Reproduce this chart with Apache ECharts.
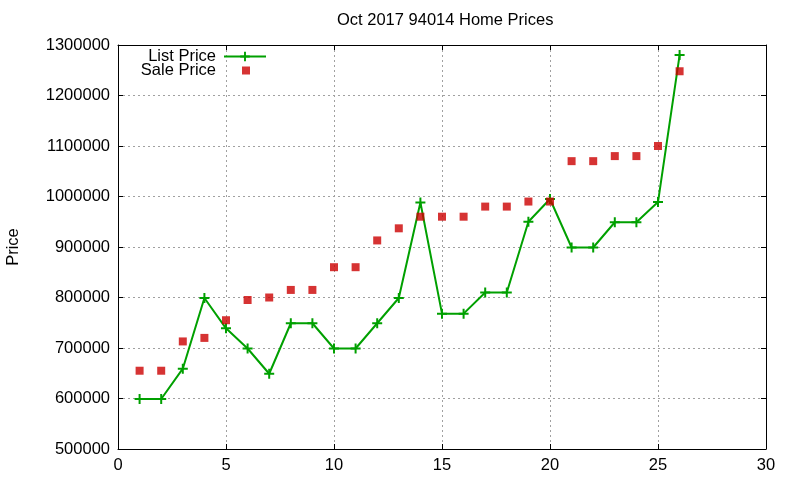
<!DOCTYPE html>
<html>
<head>
<meta charset="utf-8">
<script src="https://cdn.jsdelivr.net/npm/echarts@6/dist/echarts.min.js"></script>
<style>
  html, body { margin: 0; padding: 0; background: #fff; }
  #main { width: 800px; height: 480px; }
</style>
</head>
<body>
<div id="main"></div>
<script>
var days = [1, 2, 3, 4, 5, 6, 7, 8, 9, 10, 11, 12, 13, 14, 15, 16, 17, 18, 19, 20, 21, 22, 23, 24, 25, 26];
var listPrice = [599000, 599000, 659000, 799000, 739000, 699000, 649000, 749000, 749000, 699000, 699000, 749000, 799000,
                 988000, 768000, 768000, 810000, 810000, 950000, 995000, 899000, 899000, 949000, 949000, 989000, 1280000];
var salePrice = [655000, 655000, 713000, 720000, 755000, 795000, 800000, 815000, 815000, 860000, 860000, 913000, 937000,
                 960000, 960000, 960000, 980000, 980000, 990000, 990000, 1070000, 1070000, 1080000, 1080000, 1100000, 1248000];

var FONT = 'Liberation Sans';
var FS = 16.5;
var plus = 'path://M4,0h2v4h4v2h-4v4h-2v-4h-4v-2h4z';

function pairs(xs, ys) {
    var out = [];
    for (var i = 0; i < xs.length; i++) {
        out.push([xs[i], ys[i]]);
    }
    return out;
}

var gridLine = { show: true, lineStyle: { color: '#a0a0a0', type: [2, 3], width: 1 } };
var frame = { show: true, onZero: false, lineStyle: { color: '#000', width: 1 } };
var tick = { show: true, inside: true, length: 5, lineStyle: { color: '#000' } };

var myChart = echarts.init(document.getElementById('main'));
myChart.setOption({
    animation: false,
    textStyle: { fontFamily: FONT },
    title: {
        text: 'Oct 2017 94014 Home Prices',
        left: 337,
        top: 12,
        padding: 0,
        textStyle: { fontFamily: FONT, fontSize: FS, fontWeight: 'normal', color: '#000' }
    },
    legend: [{
        data: ['List Price'],
        orient: 'vertical',
        align: 'right',
        right: 533,
        top: 48,
        padding: 0,
        itemWidth: 42,
        itemHeight: 12,
        textStyle: { fontFamily: FONT, fontSize: FS, color: '#000', padding: [0, 3, 0, 0] }
    }, {
        // square icon sits in the middle of the line sample above
        data: ['Sale Price'],
        orient: 'vertical',
        align: 'right',
        right: 550,
        top: 62,
        padding: 0,
        itemWidth: 8,
        itemHeight: 8,
        icon: 'rect',
        textStyle: { fontFamily: FONT, fontSize: FS, color: '#000', padding: [0, 21, 0, 0] }
    }],
    grid: { left: 118, right: 34, top: 45, bottom: 31, outerBoundsMode: 'none' },
    xAxis: [{
        type: 'value',
        min: 0,
        max: 30,
        interval: 5,
        axisLine: frame,
        axisTick: tick,
        axisLabel: { margin: 8, fontSize: FS, color: '#000', fontFamily: FONT },
        splitLine: gridLine
    }, {
        type: 'value',
        position: 'top',
        min: 0,
        max: 30,
        interval: 5,
        axisLine: frame,
        axisTick: tick,
        axisLabel: { show: false },
        splitLine: { show: false }
    }],
    yAxis: [{
        type: 'value',
        min: 500000,
        max: 1300000,
        interval: 100000,
        name: 'Price',
        nameLocation: 'middle',
        nameRotate: 90,
        nameGap: 96,
        nameMoveOverlap: false,
        nameTextStyle: { fontSize: FS, color: '#000', fontFamily: FONT },
        axisLine: frame,
        axisTick: tick,
        axisLabel: {
            margin: 8, fontSize: FS, color: '#000', fontFamily: FONT,
            formatter: function (v) { return String(v); }
        },
        splitLine: gridLine
    }, {
        type: 'value',
        position: 'right',
        min: 500000,
        max: 1300000,
        interval: 100000,
        axisLine: frame,
        axisTick: tick,
        axisLabel: { show: false },
        splitLine: { show: false }
    }],
    series: [{
        name: 'List Price',
        type: 'line',
        data: pairs(days, listPrice),
        symbol: plus,
        symbolSize: 10,
        showAllSymbol: true,
        itemStyle: { color: '#00a000', borderWidth: 0 },
        lineStyle: { color: '#00a000', width: 2 },
        z: 3
    }, {
        name: 'Sale Price',
        type: 'scatter',
        data: pairs(days, salePrice),
        symbol: 'rect',
        symbolSize: 8,
        itemStyle: { color: '#cc0000' },
        z: 4
    }]
});
</script>
</body>
</html>
